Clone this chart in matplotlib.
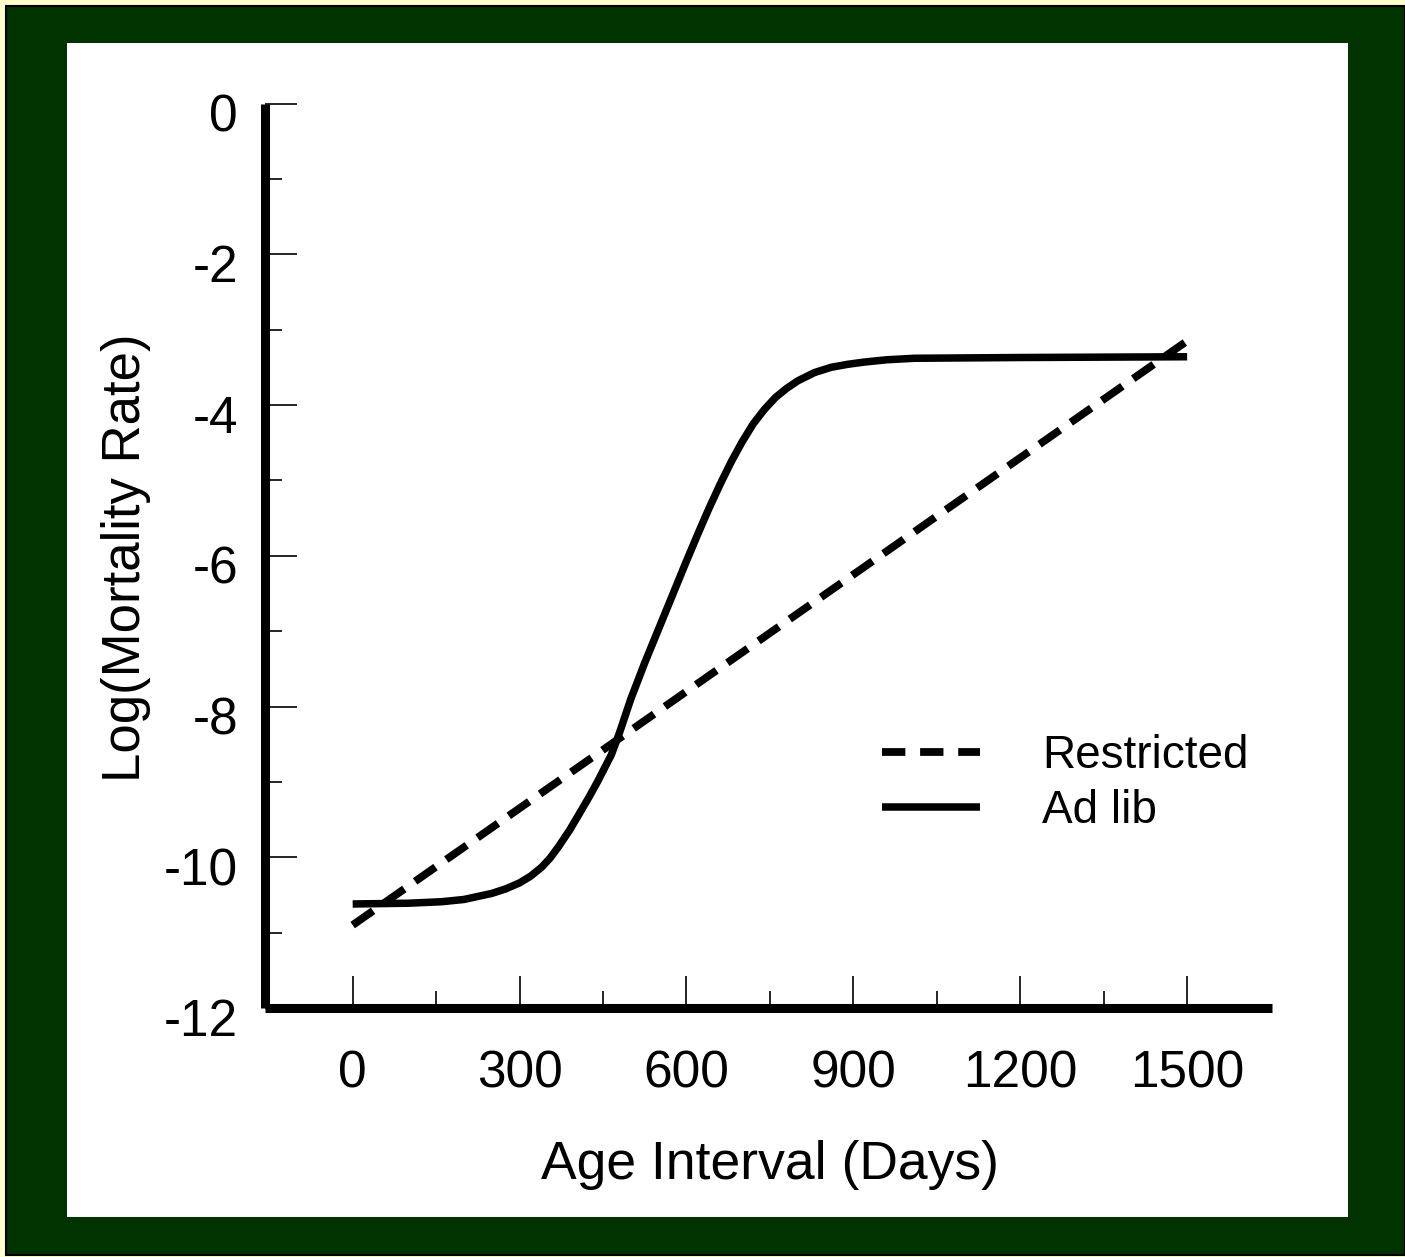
import numpy as np
import matplotlib
matplotlib.use("Agg")
import matplotlib.pyplot as plt
from matplotlib.patches import Rectangle
from matplotlib.lines import Line2D
from matplotlib.transforms import ScaledTranslation
from matplotlib.ticker import FixedLocator

plt.rcParams['font.family'] = ['Liberation Sans', 'DejaVu Sans']
plt.rcParams['axes.unicode_minus'] = False

# values
age = [0, 100, 160, 200, 250, 275, 300, 320, 340, 355, 370, 390, 410, 425,
       440, 465, 480, 500, 525, 550, 575, 600, 620, 640, 660, 680, 700, 720,
       740, 760, 780, 800, 830, 860, 890, 920, 960, 1010, 1200, 1500]
adlib = [-10.62, -10.61, -10.59, -10.56, -10.48, -10.42, -10.34, -10.25,
         -10.13, -10.01, -9.86, -9.64, -9.39, -9.2, -9.0, -8.64, -8.34, -7.9,
         -7.42, -6.97, -6.52, -6.07, -5.72, -5.38, -5.06, -4.76, -4.49, -4.25,
         -4.06, -3.90, -3.78, -3.68, -3.57, -3.50, -3.46, -3.43, -3.40, -3.38,
         -3.37, -3.36]
restricted_age = [0, 1500]
restricted = [-10.9, -3.15]
xticks = [0, 300, 600, 900, 1200, 1500]
yticks = [0, -2, -4, -6, -8, -10, -12]

W, H = 1405, 1257
fig = plt.figure(figsize=(W / 100, H / 100), dpi=100)
fig.patch.set_facecolor('#ffffcc')

def px(x, y):
    return x / W, 1 - y / H

# green frame and white panel
fig.add_artist(Rectangle(px(6, 1255), (W - 6) / W, 1249 / H, transform=fig.transFigure,
                         facecolor='#003300', edgecolor='black', linewidth=1.5, zorder=-3))
fig.add_artist(Rectangle(px(67, 1217), (1348 - 67) / W, (1217 - 43) / H,
                         transform=fig.transFigure, facecolor='white',
                         edgecolor='none', zorder=-2))

ax = fig.add_axes([264.5 / W, 1 - 1008 / H, 1007.2 / W, 904.5 / H])
ax.set_facecolor('none')

ax.plot(age, adlib, color='black', lw=5.4, solid_capstyle='butt',
        solid_joinstyle='round', label='Ad lib')
ax.plot(restricted_age, restricted, color='black', lw=5.6, dashes=(3.2, 1.7),
        dash_capstyle='butt', label='Restricted')

ax.set_xlim(-158.5, 1652)
ax.set_ylim(-12, 0)

for s in ['top', 'right']:
    ax.spines[s].set_visible(False)
for s in ['left', 'bottom']:
    ax.spines[s].set_linewidth(6.5)
    ax.spines[s].set_capstyle('butt')

ax.set_xticks(xticks)
ax.set_yticks(yticks)
ax.xaxis.set_minor_locator(FixedLocator([150, 450, 750, 1050, 1350]))
ax.yaxis.set_minor_locator(FixedLocator([-1, -3, -5, -7, -9, -11]))
ax.tick_params(which='major', direction='in', length=23, width=1.2, labelsize=37)
ax.tick_params(which='minor', direction='in', length=12, width=1.2)
ax.tick_params(axis='x', which='major', pad=30)
ax.tick_params(axis='y', which='major', pad=19)

shift = ScaledTranslation(0, -9 / 100, fig.dpi_scale_trans)
for lab in ax.get_yticklabels():
    lab.set_transform(lab.get_transform() + shift)

ax.text(0.502, -0.174, 'Age Interval (Days)', transform=ax.transAxes,
        ha='center', va='center', fontsize=38.5)
ax.text(-0.1375, 0.4975, 'Log(Mortality Rate)', transform=ax.transAxes,
        ha='center', va='center', rotation=90, fontsize=38)

handles = [Line2D([], [], color='black', lw=5.6, dashes=(3.0, 1.9), dash_capstyle='butt'),
           Line2D([], [], color='black', lw=5.4, solid_capstyle='butt')]
ax.legend(handles, ['Restricted', 'Ad lib'], loc='upper left',
          bbox_to_anchor=((882 - 264.5) / 1007.2, (1008 - 734) / 904.5),
          frameon=False, fontsize=33, handlelength=2.14, handletextpad=1.35,
          labelspacing=0.25, borderpad=0, borderaxespad=0)

fig.savefig('out.png', dpi=100, facecolor=fig.get_facecolor())
